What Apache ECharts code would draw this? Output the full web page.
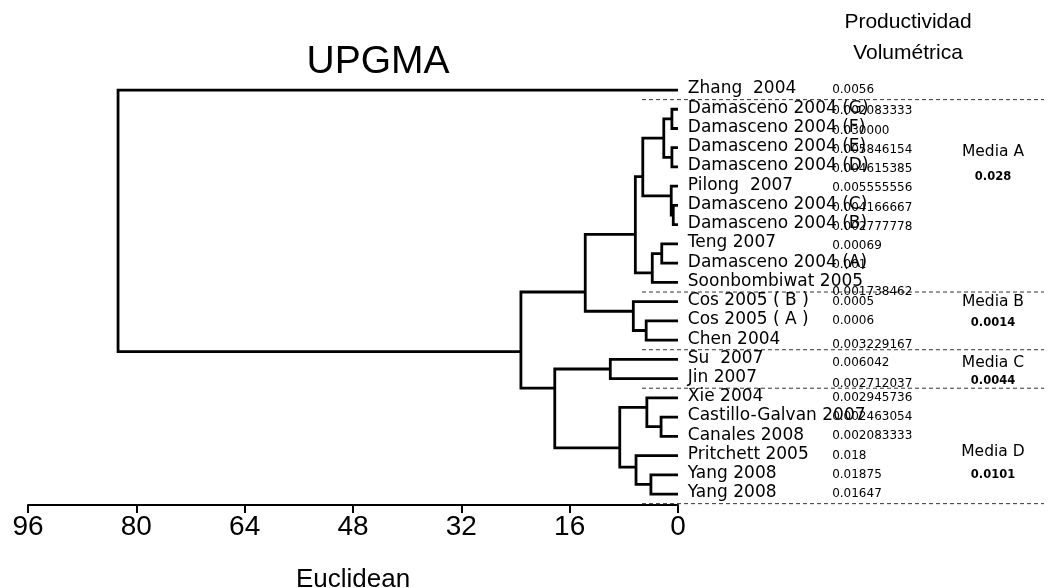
<!DOCTYPE html>
<html>
<head>
<meta charset="utf-8">
<title>UPGMA</title>
<script src="https://cdn.jsdelivr.net/npm/echarts/dist/echarts.min.js"></script>
<style>
html, body { margin: 0; padding: 0; background: #fff; }
#main { width: 1049px; height: 588px; }
</style>
</head>
<body>
<div id="main"></div>
<script>
// leaves, top to bottom
var leafNames = [
    'Zhang  2004', 'Damasceno 2004 (G)', 'Damasceno 2004 (F)', 'Damasceno 2004 (E)',
    'Damasceno 2004 (D)', 'Pilong  2007', 'Damasceno 2004 (C)', 'Damasceno 2004 (B)',
    'Teng 2007', 'Damasceno 2004 (A)', 'Soonbombiwat 2005', 'Cos 2005 ( B )',
    'Cos 2005 ( A )', 'Chen 2004', 'Su  2007', 'Jin 2007', 'Xie 2004',
    'Castillo-Galvan 2007', 'Canales 2008', 'Pritchett 2005', 'Yang 2008', 'Yang 2008'
];
var leafValues = [
    '0.0056', '0.002083333', '0.030000', '0.005846154', '0.004615385', '0.005555556',
    '0.004166667', '0.002777778', '0.00069', '0.001', '0.001738462', '0.0005',
    '0.0006', '0.003229167', '0.006042', '0.002712037', '0.002945736', '0.002463054',
    '0.002083333', '0.018', '0.01875', '0.01647'
];

// merges (node id = number of leaves + merge index)
var mergeLeft   = [1, 3, 22, 6, 5, 24, 8, 28, 27, 12, 11, 30, 14, 17, 16, 20, 19, 36, 34, 33, 0];
var mergeRight  = [2, 4, 23, 7, 25, 26, 9, 10, 29, 13, 31, 32, 15, 18, 35, 21, 37, 38, 39, 40, 41];
var mergeHeight = [0.9, 0.9, 2.1, 0.7, 1.0, 5.2, 2.4, 3.8, 6.3, 4.7, 6.6, 13.7, 10.0, 2.5, 4.6, 4.0, 6.2, 8.6, 18.2, 23.2, 82.7];
var mergeRow    = [1.5, 3.5, 2.5, 6.5, 5.5, 4.5, 8.5, 9.5, 7.5, 12.5, 11.5, 10.5, 14.5, 17.5, 16.5, 20.5, 19.6, 18.6, 15.5, 13.6, 6.8];

// groups
var groupNames = ['Media A', 'Media B', 'Media C', 'Media D'];
var groupMeans = ['0.028', '0.0014', '0.0044', '0.0101'];
var groupFirst = [1, 11, 14, 16];
var groupLast  = [10, 13, 15, 21];

// layout helpers (not data)
var groupLabelRow = [3.2, 11.0, 14.2, 18.8];
var groupMeanRow  = [4.5, 12.1, 15.1, 20.0];
var valueShift = [0, 2, 2, 2, 2, 2, 2, 2, 2, 2, 9, 0, 0, 5, 4, 5, 0, 0, 0, 0, 0, 0];
var ROW_MAX = 21.57; // axis line sits a little below the last leaf

var nLeaf = leafNames.length;
function height(id) { return id < nLeaf ? 0 : mergeHeight[id - nLeaf]; }
function row(id) { return id < nLeaf ? id : mergeRow[id - nLeaf]; }

var treeLines = mergeHeight.map(function (h, k) {
    var a = mergeLeft[k], b = mergeRight[k];
    return {
        coords: [[height(a), row(a)], [h, row(a)], [h, row(b)], [height(b), row(b)]]
    };
});

var seps = [groupFirst[0] - 0.5];
groupLast.forEach(function (l) { seps.push(l + 0.5); });
var sepLines = seps.map(function (r) { return { coords: [[0, r], [1, r]] }; });

var NAME_X = 0.114, VALUE_X = 0.473, MEDIA_X = 0.873;

var myChart = echarts.init(document.getElementById('main'), null, { renderer: 'canvas' });

function textSeries(name, data, label) {
    return {
        name: name,
        type: 'scatter',
        xAxisIndex: 1,
        yAxisIndex: 1,
        symbolSize: 0,
        silent: true,
        itemStyle: { opacity: 1 },
        label: label,
        data: data
    };
}

myChart.setOption({
    animation: false,
    backgroundColor: '#fff',
    grid: [
        { left: 28, width: 650, top: 90, height: 415, outerBoundsMode: 'none', containLabel: false },
        { left: 642, width: 402, top: 90, height: 415, outerBoundsMode: 'none', containLabel: false }
    ],
    xAxis: [{
        gridIndex: 0,
        type: 'value',
        position: 'bottom',
        min: 0,
        max: 96,
        interval: 16,
        inverse: true,
        splitLine: { show: false },
        axisLine: { onZero: false, lineStyle: { color: '#000', width: 2 } },
        axisTick: { show: true, inside: false, length: 8, lineStyle: { color: '#000', width: 2 } },
        axisLabel: { color: '#000', fontSize: 28, fontFamily: 'Liberation Sans', margin: 8 },
        name: 'Euclidean',
        nameLocation: 'middle',
        nameGap: 62,
        nameTextStyle: { color: '#000', fontSize: 26, fontFamily: 'Liberation Sans' }
    }, {
        gridIndex: 1,
        type: 'value',
        min: 0,
        max: 1,
        show: false
    }],
    yAxis: [{
        gridIndex: 0,
        type: 'value',
        min: 0,
        max: ROW_MAX,
        inverse: true,
        show: false
    }, {
        gridIndex: 1,
        type: 'value',
        min: 0,
        max: ROW_MAX,
        inverse: true,
        show: false
    }],
    graphic: [{
        type: 'text', x: 378, y: 62,
        style: { text: 'UPGMA', fontSize: 39, fontFamily: 'Liberation Sans', fill: '#000', align: 'center', verticalAlign: 'middle' }
    }, {
        type: 'text', x: 908, y: 22,
        style: { text: 'Productividad', fontSize: 21, fontFamily: 'Liberation Sans', fill: '#000', align: 'center', verticalAlign: 'middle' }
    }, {
        type: 'text', x: 908, y: 53,
        style: { text: 'Volumétrica', fontSize: 21, fontFamily: 'Liberation Sans', fill: '#000', align: 'center', verticalAlign: 'middle' }
    }],
    series: [{
        name: 'tree',
        type: 'lines',
        coordinateSystem: 'cartesian2d',
        xAxisIndex: 0,
        yAxisIndex: 0,
        polyline: true,
        silent: true,
        lineStyle: { color: '#000', width: 2.8, opacity: 1, join: 'miter', cap: 'butt' },
        data: treeLines
    }, {
        name: 'separators',
        type: 'lines',
        coordinateSystem: 'cartesian2d',
        xAxisIndex: 1,
        yAxisIndex: 1,
        polyline: true,
        silent: true,
        lineStyle: { color: '#333', width: 1, opacity: 1, type: [4, 3] },
        data: sepLines
    },
    textSeries('names', leafNames.map(function (n, i) { return [NAME_X, i]; }), {
        show: true,
        position: [0, -1],
        align: 'left',
        verticalAlign: 'middle',
        color: '#000',
        fontSize: 17,
        fontFamily: 'DejaVu Sans',
        formatter: function (p) { return leafNames[p.dataIndex]; }
    }),
    textSeries('values', leafValues.map(function (v, i) {
        return {
            value: [VALUE_X, i],
            label: { position: [0, valueShift[i]], formatter: v }
        };
    }), {
        show: true,
        align: 'left',
        verticalAlign: 'middle',
        color: '#000',
        fontSize: 12,
        fontFamily: 'DejaVu Sans'
    }),
    textSeries('media', groupNames.map(function (g, i) { return [MEDIA_X, groupLabelRow[i]]; }), {
        show: true,
        position: [0, 0],
        align: 'center',
        verticalAlign: 'middle',
        color: '#000',
        fontSize: 15.5,
        fontFamily: 'DejaVu Sans',
        formatter: function (p) { return groupNames[p.dataIndex]; }
    }),
    textSeries('means', groupMeans.map(function (g, i) { return [MEDIA_X, groupMeanRow[i]]; }), {
        show: true,
        position: [0, 0],
        align: 'center',
        verticalAlign: 'middle',
        color: '#000',
        fontSize: 11.5,
        fontWeight: 'bold',
        fontFamily: 'DejaVu Sans',
        formatter: function (p) { return groupMeans[p.dataIndex]; }
    })]
});
</script>
</body>
</html>
